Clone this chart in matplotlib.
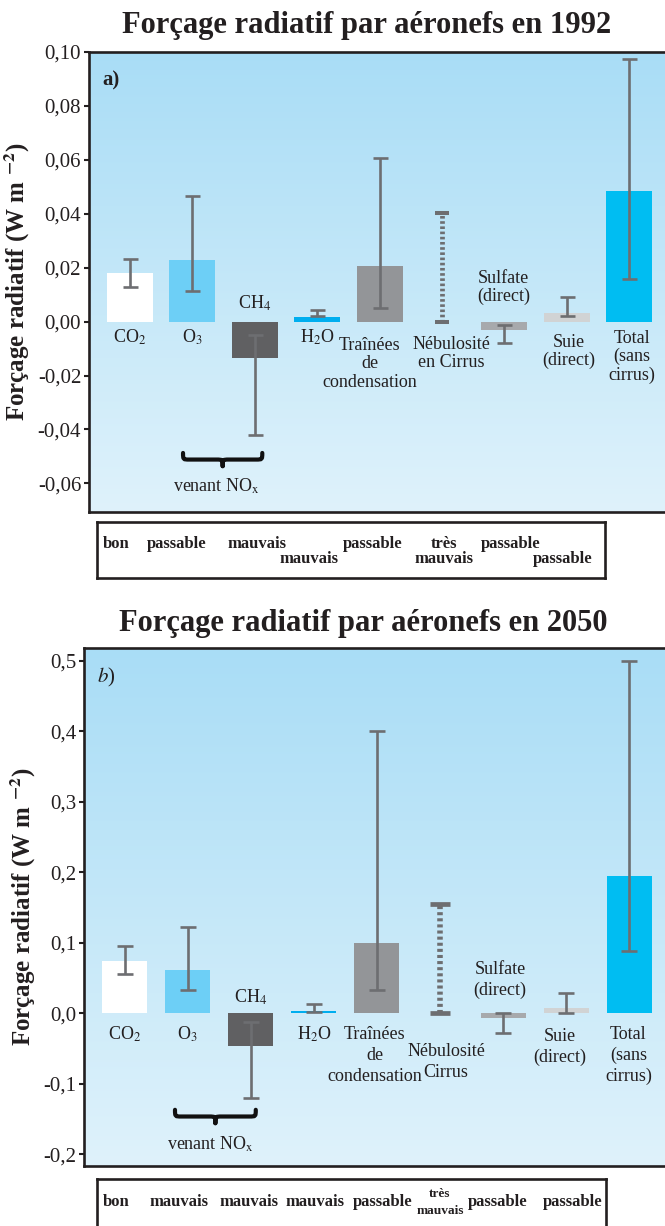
import numpy as np
import matplotlib.pyplot as plt
from matplotlib.colors import LinearSegmentedColormap
from matplotlib.path import Path
from matplotlib.patches import PathPatch

plt.rcParams['font.family'] = ['Liberation Serif', 'DejaVu Serif']
plt.rcParams['mathtext.fontset'] = 'stix'

# ---- data -----------------------------------------------------------
labels_1992 = ['CO$_2$', 'O$_3$', 'CH$_4$', 'H$_2$O', 'Traînées\nde\ncondensation',
               'Nébulosité\nen Cirrus', 'Sulfate\n(direct)', 'Suie\n(direct)',
               'Total\n(sans\ncirrus)']
labels_2050 = ['CO$_2$', 'O$_3$', 'CH$_4$', 'H$_2$O', 'Traînées\nde\ncondensation',
               'Nébulosité\nCirrus', 'Sulfate\n(direct)', 'Suie\n(direct)',
               'Total\n(sans\ncirrus)']
bar_colors = ['#ffffff', '#6dcff6', '#606062', '#00aeef', '#939598',
              'none', '#a7a9ac', '#d1d3d4', '#00bdf2']

val_1992 = [0.018, 0.023, -0.0135, 0.0017, 0.0205, 0.0, -0.0032, 0.0031, 0.0485]
lo_1992 = [0.013, 0.0115, -0.042, 0.002, 0.005, 0.0, -0.008, 0.002, 0.0158]
hi_1992 = [0.0233, 0.0465, -0.0048, 0.0044, 0.0606, 0.0402, -0.0012, 0.009, 0.0975]

val_2050 = [0.074, 0.061, -0.046, 0.003, 0.099, 0.0, -0.007, 0.007, 0.195]
lo_2050 = [0.055, 0.033, -0.12, 0.002, 0.033, 0.0, -0.0285, 0.0, 0.088]
hi_2050 = [0.096, 0.122, -0.013, 0.013, 0.40, 0.155, 0.0, 0.028, 0.50]

quality_1992 = ['bon', 'passable', 'mauvais', 'mauvais', 'passable',
                'très\nmauvais', 'passable', 'passable']
quality_2050 = ['bon', 'mauvais', 'mauvais', 'mauvais', 'passable',
                'très\nmauvais', 'passable', 'passable']

ticks_1992 = [-0.06, -0.04, -0.02, 0.0, 0.02, 0.04, 0.06, 0.08, 0.10]
ticks_2050 = [-0.2, -0.1, 0.0, 0.1, 0.2, 0.3, 0.4, 0.5]

# ---- layout (pixels) ------------------------------------------------
W, H = 665, 1226
DARK = '#231f20'
ERR = '#6d6e71'
bg = LinearSegmentedColormap.from_list('bg', ['#dff2fb', '#a9ddf6'])

fig = plt.figure(figsize=(W / 100, H / 100), dpi=100)


def px_axes(x0, y0, x1, y1):
    return fig.add_axes([x0 / W, 1 - y1 / H, (x1 - x0) / W, (y1 - y0) / H])


def brace(ax, x0, x1, yt, yb):
    xm = (x0 + x1) / 2
    ym = (yt + yb) / 2
    q = (x1 - x0) * 0.08
    verts = [(x0, yt), (x0, ym), (x0, ym), (x0 + q, ym),
             (xm - q, ym),
             (xm, ym), (xm, ym), (xm, yb),
             (xm, ym), (xm, ym), (xm + q, ym),
             (x1 - q, ym),
             (x1, ym), (x1, ym), (x1, yt)]
    codes = [Path.MOVETO, Path.CURVE4, Path.CURVE4, Path.CURVE4,
             Path.LINETO,
             Path.CURVE4, Path.CURVE4, Path.CURVE4,
             Path.CURVE4, Path.CURVE4, Path.CURVE4,
             Path.LINETO,
             Path.CURVE4, Path.CURVE4, Path.CURVE4]
    ax.add_patch(PathPatch(Path(verts, codes), fill=False, lw=3.0,
                           color='#111111', zorder=4, clip_on=False,
                           capstyle='round', joinstyle='round'))


def panel(ax, labels, val, lo, hi, ticks, ylim, xlim, width, fmt,
          dx, dy, step, neb_cap, neb_lw, capsize, brace_x, brace_y, nox_xy):
    x = np.arange(len(val))
    ax.imshow(np.linspace(0, 1, 256).reshape(-1, 1), cmap=bg, origin='lower',
              extent=[0, 1, 0, 1], transform=ax.transAxes, aspect='auto', zorder=0)
    ax.bar(x, val, width, color=bar_colors, zorder=2)
    lo = np.array(lo)
    hi = np.array(hi)
    mid = (lo + hi) / 2
    half = (hi - lo) / 2
    keep = [i for i in x if i != 5]
    ax.errorbar(x[keep], mid[keep], yerr=half[keep], fmt='none', ecolor=ERR,
                elinewidth=1.9, capsize=capsize, capthick=1.9, zorder=3)
    eb = ax.errorbar([5], [mid[5]], yerr=[half[5]], fmt='none', ecolor=ERR,
                     elinewidth=neb_lw, capsize=neb_cap, capthick=neb_lw * 0.85,
                     zorder=3)
    eb[2][0].set_linestyle((0, (0.55, 0.55)))

    for i, lab in enumerate(labels):
        for k, line in enumerate(lab.split('\n')):
            ax.annotate(line, xy=(i, 0),
                        xytext=(dx[i] * 0.72, (dy[i] - k * step) * 0.72),
                        textcoords='offset points', ha='center', va='baseline',
                        fontsize=13, color=DARK, zorder=5)

    brace(ax, brace_x[0], brace_x[1], brace_y[0], brace_y[1])
    ax.text(nox_xy[0], nox_xy[1], 'venant NO$_\\mathrm{x}$', ha='center',
            va='baseline', fontsize=13, color=DARK)

    ax.set_xlim(*xlim)
    ax.set_ylim(*ylim)
    ax.set_xticks([])
    ax.set_yticks(ticks)
    ax.set_yticklabels([fmt.format(t).replace('.', ',') for t in ticks])
    ax.tick_params(axis='y', direction='out', length=3.6, width=1.5, colors=DARK,
                   labelsize=15, pad=2)
    for s in ['left', 'top', 'bottom', 'right']:
        ax.spines[s].set_linewidth(1.9)
        ax.spines[s].set_color(DARK)
    ax.set_ylabel('Forçage radiatif (W m $^{\\mathbf{-2}}$)', fontsize=18,
                  fontweight='bold', color=DARK, labelpad=4)


def quality_box(x0, y0, x1, y1, words, xs, ys, has, sizes, step):
    lax = px_axes(x0, y0, x1, y1)
    lax.set_xlim(x0, x1)
    lax.set_ylim(y1, y0)
    lax.set_xticks([])
    lax.set_yticks([])
    for s in lax.spines.values():
        s.set_linewidth(1.9)
        s.set_color(DARK)
    for w, xx, yy, ha, fs in zip(words, xs, ys, has, sizes):
        for k, line in enumerate(w.split('\n')):
            lax.text(xx, yy + k * step, line, ha=ha, va='baseline', fontsize=fs,
                     fontweight='bold', color=DARK)


# ---- panel a) 1992 --------------------------------------------------
ax1 = px_axes(89, 52, 667, 512)
panel(ax1, labels_1992, val_1992, lo_1992, hi_1992, ticks_1992,
      ylim=(-0.0706, 0.1), xlim=(-0.657, 8.606), width=0.737, fmt='{:.2f}',
      dx=[0, 0, 0, 0, -10, 9, -1, 2, 3],
      dy=[-21, -21, 13, -21, -28, -27, 39, -25, -21], step=18.5,
      neb_cap=5.0, neb_lw=3.4, capsize=5.4,
      brace_x=(0.85, 2.12), brace_y=(-0.0487, -0.0536), nox_xy=(1.39, -0.0632))
ax1.text(0.024, 0.928, 'a)', transform=ax1.transAxes, fontsize=15,
         fontweight='bold', color=DARK)
fig.text(367 / W, 1 - 33 / H, 'Forçage radiatif par aéronefs en 1992',
         ha='center', va='baseline', fontsize=22, fontweight='bold', color=DARK)

quality_box(97, 522, 605, 578, quality_1992,
            [103, 147, 227, 280, 343, 444, 481, 533],
            [548, 548, 548, 563, 548, 548, 548, 563],
            ['left'] * 5 + ['center'] + ['left'] * 2, [12] * 8, 15)

# ---- panel b) 2050 --------------------------------------------------
ax2 = px_axes(84, 648, 667, 1166)
panel(ax2, labels_2050, val_2050, lo_2050, hi_2050, ticks_2050,
      ylim=(-0.2167, 0.518), xlim=(-0.642, 8.597), width=0.713, fmt='{:.1f}',
      dx=[0, 0, 0, 0, -2, 6, -3, -6, -1],
      dy=[-26, -26, 11, -26, -26, -43, 39, -28, -26], step=21,
      neb_cap=7.2, neb_lw=4.0, capsize=6.0,
      brace_x=(0.80, 2.08), brace_y=(-0.137, -0.156), nox_xy=(1.355, -0.194))
ax2.text(0.022, 0.934, '$b$)', transform=ax2.transAxes, fontsize=15, color=DARK)
fig.text(363 / W, 1 - 631 / H, 'Forçage radiatif par aéronefs en 2050',
         ha='center', va='baseline', fontsize=22, fontweight='bold', color=DARK)

quality_box(97, 1179, 606, 1232, quality_2050,
            [103, 149, 219, 286, 353, 440, 468, 543],
            [1206, 1206, 1206, 1206, 1206, 1197, 1206, 1206],
            ['left'] * 5 + ['center'] + ['left'] * 2,
            [12] * 5 + [9.6] + [12] * 2, 17)

fig.savefig('out.png', dpi=100)
